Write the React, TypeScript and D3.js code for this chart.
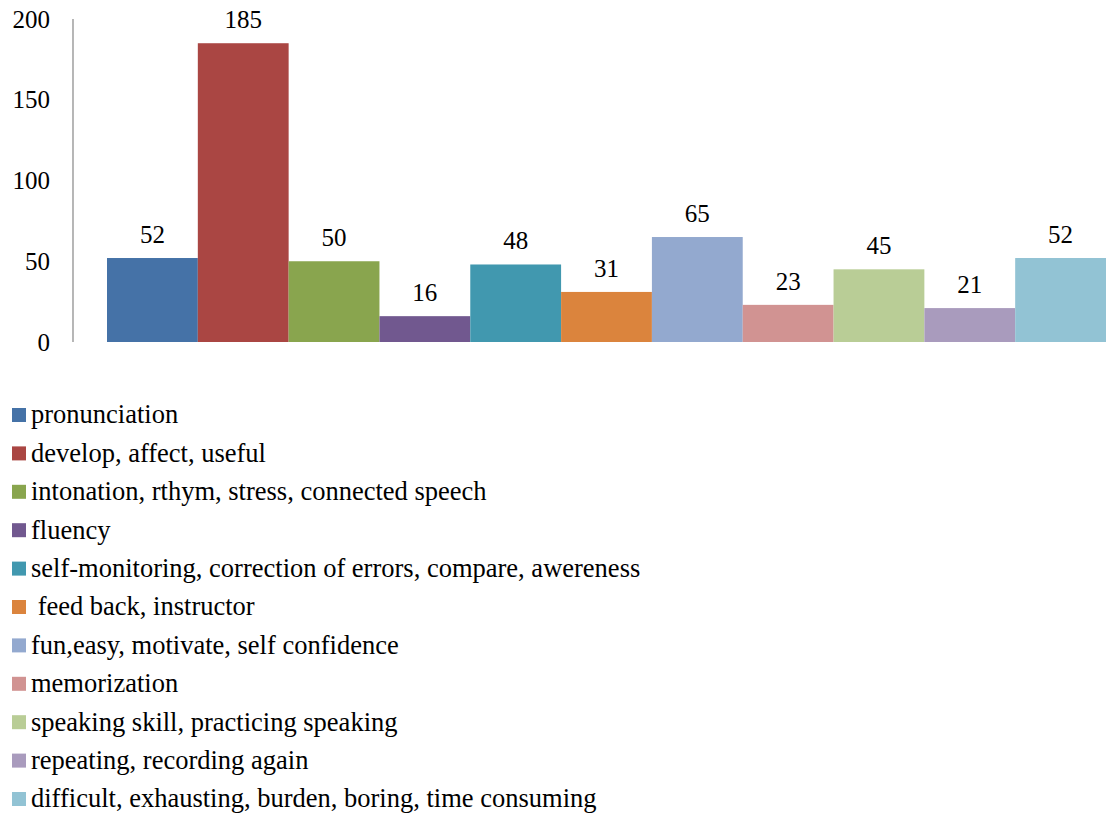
import React from "react";
import * as d3 from "d3";

const categories = [
  "pronunciation",
  "develop, affect, useful",
  "intonation, rthym, stress, connected speech",
  "fluency",
  "self-monitoring, correction of errors, compare, awereness",
  " feed back, instructor",
  "fun,easy, motivate, self confidence",
  "memorization",
  "speaking skill, practicing speaking",
  "repeating, recording again",
  "difficult, exhausting, burden, boring, time consuming",
];
const values = [52, 185, 50, 16, 48, 31, 65, 23, 45, 21, 52];
const colors = [
  "#4572A7", "#AA4643", "#89A54E", "#71588F", "#4198AF", "#DB843D",
  "#93A9CF", "#D19392", "#B9CD96", "#A99BBD", "#92C3D4",
];
const yTicks = [0, 50, 100, 150, 200];

const W = 1107;
const H = 814;
const FONT = "Liberation Serif";

export default function App() {
  const x = d3.scaleBand<number>().domain(d3.range(categories.length)).range([107, 1106]).padding(0);
  const y = d3.scaleLinear().domain([0, 200]).range([342, 19]);
  const legendY = (i: number) => 415 + i * 38.4;

  return (
    <svg width={W} height={H} style={{ position: "absolute", left: 0, top: 0, background: "#fff" }}>
      {/* value axis */}
      <line x1={73} x2={73} y1={y(200)} y2={y(0)} stroke="#868686" strokeWidth={1.2} />
      {yTicks.map((t) => (
        <text key={t} x={50} y={y(t)} dy="0.34em" textAnchor="end" fontSize={25} fill="#000" style={{ fontFamily: FONT }}>
          {t}
        </text>
      ))}

      {/* bars */}
      {values.map((v, i) => (
        <rect key={i} x={x(i)} y={y(v)} width={x.bandwidth()} height={y(0) - y(v)} fill={colors[i]} />
      ))}

      {/* value labels */}
      {values.map((v, i) => (
        <text key={i} x={(x(i) as number) + x.bandwidth() / 2} y={y(v) - 15} textAnchor="middle" fontSize={25} fill="#000" style={{ fontFamily: FONT }}>
          {v}
        </text>
      ))}

      {/* legend */}
      {categories.map((c, i) => (
        <g key={c}>
          <rect x={12} y={legendY(i) - 7} width={14} height={14} fill={colors[i]} />
          <text x={31} y={legendY(i)} dy="0.32em" fontSize={26.5} fill="#000" style={{ whiteSpace: "pre", fontFamily: FONT }}>
            {c}
          </text>
        </g>
      ))}
    </svg>
  );
}
